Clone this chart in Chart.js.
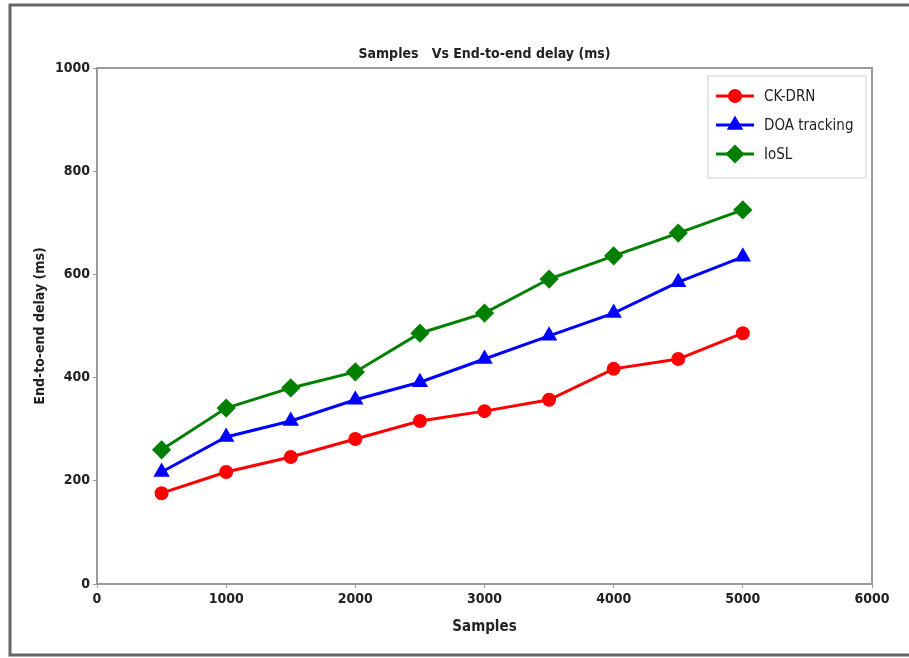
<!DOCTYPE html>
<html>
<head>
<meta charset="utf-8">
<script src="https://cdn.jsdelivr.net/npm/chart.js@4"></script>
<style>
  html, body { margin: 0; padding: 0; background: #fff; }
  #wrap { width: 909px; height: 658px; position: relative; }
</style>
</head>
<body>
<div id="wrap"><canvas id="delayChart" width="909" height="658"></canvas></div>
<script>
// podaci očitani s grafa
const samples = [500, 1000, 1500, 2000, 2500, 3000, 3500, 4000, 4500, 5000];
const ckDrn = [176, 217, 246, 281, 316, 335, 357, 417, 436, 486];
const doaTracking = [217, 285, 316, 357, 391, 436, 481, 525, 585, 634];
const iosl = [260, 341, 380, 411, 486, 525, 591, 636, 680, 725];
const xTicks = [0, 1000, 2000, 3000, 4000, 5000, 6000];
const yTicks = [0, 200, 400, 600, 800, 1000];

const FONT = "'DejaVu Sans Condensed', 'DejaVu Sans', sans-serif";

function toPoints(vals) {
  return samples.map((s, i) => ({ x: s, y: vals[i] }));
}

// okvir slike, rub grafa, naslov i legenda
const decorPlugin = {
  id: 'decor',
  afterDraw(chart) {
    const c = chart.ctx;
    const a = chart.chartArea;
    c.save();
    // vanjski okvir
    c.strokeStyle = '#666';
    c.lineWidth = 3;
    c.beginPath();
    c.moveTo(909, 5);
    c.lineTo(10, 5);
    c.lineTo(10, 655);
    c.lineTo(909, 655);
    c.stroke();
    // rub područja grafa
    c.strokeStyle = '#9a9a9a';
    c.lineWidth = 2;
    c.strokeRect(a.left, a.top, a.right - a.left, a.bottom - a.top);
    // naslov
    c.fillStyle = '#222';
    c.font = 'bold 14px ' + FONT;
    c.textAlign = 'center';
    c.textBaseline = 'middle';
    c.fillText('Samples   Vs End-to-end delay (ms)', (a.left + a.right) / 2, 54);
    // legenda
    const lx = 708, ly = 76, lw = 158, lh = 102;
    c.strokeStyle = '#cfcfcf';
    c.lineWidth = 1;
    c.fillStyle = 'rgba(255,255,255,0.9)';
    c.fillRect(lx, ly, lw, lh);
    c.strokeRect(lx, ly, lw, lh);
    chart.data.datasets.forEach((ds, i) => {
      const y = ly + 20 + i * 29;
      c.strokeStyle = ds.borderColor;
      c.lineWidth = 3;
      c.beginPath();
      c.moveTo(lx + 8, y);
      c.lineTo(lx + 46, y);
      c.stroke();
      Chart.helpers.drawPoint(c, {
        pointStyle: ds.pointStyle,
        radius: ds.pointRadius,
        rotation: 0,
        borderWidth: 1
      }, lx + 27, y);
      c.fillStyle = ds.borderColor;
      c.fill();
      c.fillStyle = '#222';
      c.font = '15px ' + FONT;
      c.textAlign = 'left';
      c.fillText(ds.label, lx + 56, y + 1);
    });
    c.restore();
  }
};

function series(label, vals, color, style, r) {
  return {
    label: label,
    data: toPoints(vals),
    borderColor: color,
    backgroundColor: color,
    borderWidth: 3,
    pointStyle: style,
    pointRadius: r,
    pointBorderColor: color,
    pointBackgroundColor: color,
    tension: 0
  };
}

const ctx = document.getElementById('delayChart').getContext('2d');
const delayChart = new Chart(ctx, {
  type: 'line',
  data: {
    datasets: [
      series('CK-DRN', ckDrn, '#ff0000', 'circle', 5.5),
      series('DOA tracking', doaTracking, '#0000ff', 'triangle', 6.5),
      series('IoSL', iosl, '#008000', 'rectRot', 7.5)
    ]
  },
  plugins: [decorPlugin],
  options: {
    responsive: false,
    animation: false,
    layout: { padding: { left: 12, top: 68, right: 37, bottom: 18 } },
    plugins: {
      legend: { display: false },
      tooltip: { enabled: false }
    },
    scales: {
      x: {
        type: 'linear',
        min: 0,
        max: 6000,
        afterBuildTicks(scale) { scale.ticks = xTicks.map(v => ({ value: v })); },
        afterFit(scale) { scale.height = 658 - 584 - 18; },
        grid: { drawOnChartArea: false, drawTicks: true, tickLength: 4, color: '#999' },
        border: { display: false },
        ticks: { color: '#222', font: { family: FONT, size: 14, weight: 'bold' }, padding: 3, maxRotation: 0, callback: v => String(v) },
        title: { display: true, text: 'Samples', color: '#222', font: { family: FONT, size: 15, weight: 'bold' }, padding: { top: 2 } }
      },
      y: {
        min: 0,
        max: 1000,
        afterBuildTicks(scale) { scale.ticks = yTicks.map(v => ({ value: v })); },
        afterFit(scale) { scale.width = 97 - 12; },
        grid: { drawOnChartArea: false, drawTicks: true, tickLength: 4, color: '#999' },
        border: { display: false },
        ticks: { color: '#222', font: { family: FONT, size: 14, weight: 'bold' }, padding: 3, callback: v => String(v) },
        title: { display: true, text: 'End-to-end delay (ms)', color: '#222', font: { family: FONT, size: 14, weight: 'bold' }, padding: { top: 20 } }
      }
    }
  }
});
</script>
</body>
</html>
